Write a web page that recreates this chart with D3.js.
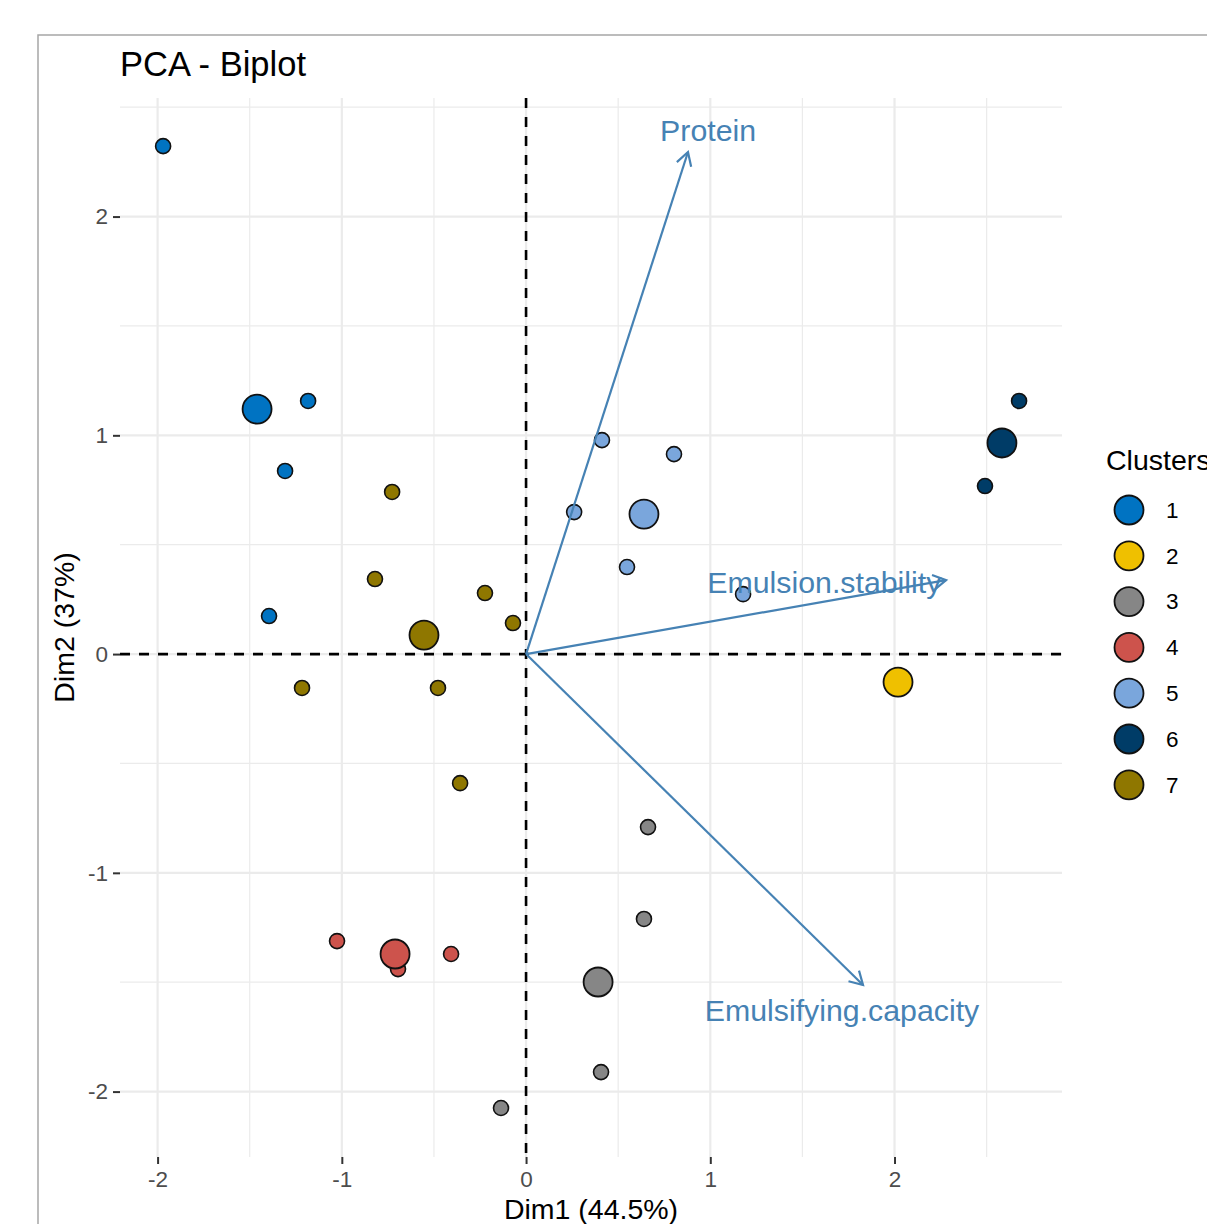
<!DOCTYPE html>
<html>
<head>
<meta charset="utf-8">
<script src="https://cdn.jsdelivr.net/npm/d3@7"></script>
<style>
  html, body { margin: 0; padding: 0; background: #fff; }
  svg { display: block; font-family: "Liberation Sans", Arial, Helvetica, sans-serif; }
</style>
</head>
<body>
<svg id="chart" width="1207" height="1224"></svg>
<script>
// ---------------- DATA ----------------
const clusters = ["1", "2", "3", "4", "5", "6", "7"];
const clusterColors = ["#0073C2", "#EFC000", "#868686", "#CD534C", "#7AA6DC", "#003C67", "#8F7700"];

// individual observations (Dim1, Dim2, cluster)
const pointX = [-1.970, -1.183, -1.308, -1.395,
                2.019,
                0.662, 0.640, 0.407, -0.136,
                -1.026, -0.695, -0.407,
                0.412, 0.803, 0.261, 0.548, 1.178,
                2.676, 2.491,
                -0.727, -0.820, -0.223, -0.071, -1.216, -0.478, -0.358];
const pointY = [2.322, 1.157, 0.837, 0.174,
                -0.128,
                -0.791, -1.211, -1.911, -2.075,
                -1.312, -1.440, -1.371,
                0.978, 0.914, 0.649, 0.398, 0.274,
                1.157, 0.768,
                0.741, 0.343, 0.279, 0.142, -0.155, -0.155, -0.590];
const pointCluster = ["1", "1", "1", "1",
                      "2",
                      "3", "3", "3", "3",
                      "4", "4", "4",
                      "5", "5", "5", "5", "5",
                      "6", "6",
                      "7", "7", "7", "7", "7", "7", "7"];

// cluster centres
const centroidX = [-1.460, 2.019, 0.391, -0.711, 0.640, 2.583, -0.554];
const centroidY = [1.120, -0.128, -1.499, -1.371, 0.640, 0.965, 0.087];

// variable arrows
const varNames = ["Protein", "Emulsion.stability", "Emulsifying.capacity"];
const varX = [0.879, 2.280, 1.829];
const varY = [2.295, 0.338, -1.513];
const varLabelX = [0.988, 1.619, 1.715];
const varLabelY = [2.395, 0.329, -1.627];

// axis ticks
const xTicks = [-2, -1, 0, 1, 2];
const yTicks = [-2, -1, 0, 1, 2];
const xMinor = [-1.5, -0.5, 0.5, 1.5, 2.5];
const yMinor = [-1.5, -0.5, 0.5, 1.5, 2.5];

const titleText = "PCA - Biplot";
const xTitle = "Dim1 (44.5%)";
const yTitle = "Dim2 (37%)";
const legendTitle = "Clusters";

// ---------------- DRAW ----------------
const svg = d3.select("#chart");
const panel = { left: 120, right: 1062, top: 98, bottom: 1157 };

const x = d3.scaleLinear().domain([-2.204, 2.909]).range([panel.left, panel.right]);
const y = d3.scaleLinear().domain([-2.299, 2.542]).range([panel.bottom, panel.top]);
const color = d3.scaleOrdinal().domain(clusters).range(clusterColors);

// outer border
svg.append("rect").attr("x", 38).attr("y", 35).attr("width", 1400).attr("height", 1400)
  .attr("fill", "none").attr("stroke", "#A6A6A6").attr("stroke-width", 1.5);

// grid
const grid = svg.append("g");
grid.selectAll(".xm").data(xMinor).join("line")
  .attr("x1", d => x(d)).attr("x2", d => x(d)).attr("y1", panel.top).attr("y2", panel.bottom)
  .attr("stroke", "#EBEBEB").attr("stroke-width", 1.2);
grid.selectAll(".ym").data(yMinor).join("line")
  .attr("y1", d => y(d)).attr("y2", d => y(d)).attr("x1", panel.left).attr("x2", panel.right)
  .attr("stroke", "#EBEBEB").attr("stroke-width", 1.2);
grid.selectAll(".xM").data(xTicks).join("line")
  .attr("x1", d => x(d)).attr("x2", d => x(d)).attr("y1", panel.top).attr("y2", panel.bottom)
  .attr("stroke", "#EBEBEB").attr("stroke-width", 2.2);
grid.selectAll(".yM").data(yTicks).join("line")
  .attr("y1", d => y(d)).attr("y2", d => y(d)).attr("x1", panel.left).attr("x2", panel.right)
  .attr("stroke", "#EBEBEB").attr("stroke-width", 2.2);

// axes
const xAxis = d3.axisBottom(x).tickValues(xTicks).tickSize(7).tickPadding(3).tickFormat(d3.format("d"));
const yAxis = d3.axisLeft(y).tickValues(yTicks).tickSize(7).tickPadding(5).tickFormat(d3.format("d"));
const gx = svg.append("g").attr("transform", `translate(0,${panel.bottom})`).call(xAxis);
const gy = svg.append("g").attr("transform", `translate(${panel.left},0)`).call(yAxis);
[gx, gy].forEach(g => {
  g.select(".domain").remove();
  g.selectAll(".tick line").attr("stroke", "#333333").attr("stroke-width", 2);
  g.selectAll(".tick text").attr("fill", "#4D4D4D").style("font-size", "22.5px")
    .text(d => d < 0 ? "-" + Math.abs(d) : String(d));
});
gx.selectAll(".tick text").attr("dy", "0.9em");

// dashed reference lines
svg.append("line").attr("x1", panel.left).attr("x2", panel.right).attr("y1", y(0)).attr("y2", y(0))
  .attr("stroke", "#000").attr("stroke-width", 2.6).attr("stroke-dasharray", "10,9");
svg.append("line").attr("x1", x(0)).attr("x2", x(0)).attr("y1", panel.top).attr("y2", panel.bottom)
  .attr("stroke", "#000").attr("stroke-width", 2.6).attr("stroke-dasharray", "10,9");

// points
const pts = pointX.map((v, i) => ({ x: v, y: pointY[i], c: pointCluster[i] }));
svg.append("g").selectAll("circle").data(pts).join("circle")
  .attr("cx", d => x(d.x)).attr("cy", d => y(d.y)).attr("r", 7.5)
  .attr("fill", d => color(d.c)).attr("stroke", "#111").attr("stroke-width", 1.6);

// centroids
const cents = clusters.map((c, i) => ({ x: centroidX[i], y: centroidY[i], c }));
svg.append("g").selectAll("circle").data(cents).join("circle")
  .attr("cx", d => x(d.x)).attr("cy", d => y(d.y)).attr("r", 14.5)
  .attr("fill", d => color(d.c)).attr("stroke", "#111").attr("stroke-width", 1.8);

// variable arrows
const arrowColor = "#4682B4";
const arrows = varNames.map((n, i) => ({ n, x: varX[i], y: varY[i], lx: varLabelX[i], ly: varLabelY[i] }));
const ag = svg.append("g");
arrows.forEach(a => {
  const x0 = x(0), y0 = y(0), x1 = x(a.x), y1 = y(a.y);
  ag.append("line").attr("x1", x0).attr("y1", y0).attr("x2", x1).attr("y2", y1)
    .attr("stroke", arrowColor).attr("stroke-width", 2.2);
  const ang = Math.atan2(y1 - y0, x1 - x0);
  const L = 15, phi = Math.PI / 6;
  const p1 = [x1 - L * Math.cos(ang - phi), y1 - L * Math.sin(ang - phi)];
  const p2 = [x1 - L * Math.cos(ang + phi), y1 - L * Math.sin(ang + phi)];
  ag.append("path").attr("d", `M${p1[0]},${p1[1]}L${x1},${y1}L${p2[0]},${p2[1]}`)
    .attr("fill", "none").attr("stroke", arrowColor).attr("stroke-width", 2.2);
  ag.append("text").attr("x", x(a.lx)).attr("y", y(a.ly)).attr("text-anchor", "middle")
    .attr("dy", "0.35em").attr("fill", arrowColor).style("font-size", "30.3px").text(a.n);
});

// title
svg.append("text").attr("x", 120).attr("y", 76).style("font-size", "34.5px").attr("fill", "#000").text(titleText);

// axis titles
svg.append("text").attr("x", (panel.left + panel.right) / 2).attr("y", 1219).attr("text-anchor", "middle")
  .style("font-size", "28.5px").attr("fill", "#000").text(xTitle);
svg.append("text").attr("transform", `translate(74,${(panel.top + panel.bottom) / 2}) rotate(-90)`)
  .attr("text-anchor", "middle").style("font-size", "28.5px").attr("fill", "#000").text(yTitle);

// legend
svg.append("text").attr("x", 1106).attr("y", 470).style("font-size", "28.5px").attr("fill", "#000").text(legendTitle);
const lg = svg.append("g").selectAll("g").data(clusters).join("g")
  .attr("transform", (d, i) => `translate(1129,${510 + i * 45.8})`);
lg.append("circle").attr("r", 14.5).attr("fill", d => color(d)).attr("stroke", "#111").attr("stroke-width", 1.8);
lg.append("text").attr("x", 37).attr("dy", "0.35em").style("font-size", "22.5px").attr("fill", "#000").text(d => d);
</script>
</body>
</html>
